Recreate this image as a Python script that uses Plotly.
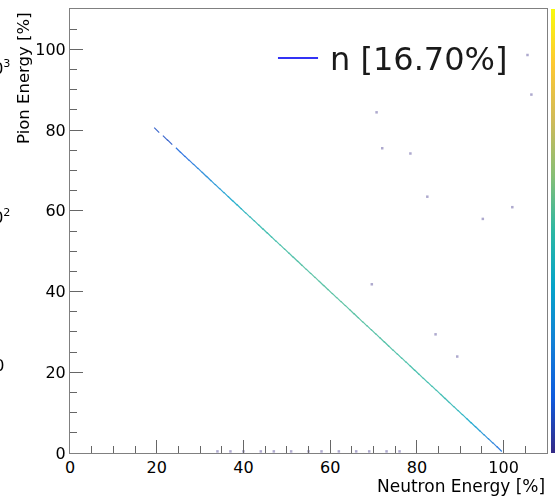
import numpy as np
import plotly.graph_objects as go

# ---- data ----
# diagonal band: neutron energy [%], pion energy [%], counts per 1% bin
neutron_energy = [20, 22, 23, 25, 26, 27, 28, 29,
                  30, 31, 32, 33, 34, 35, 36, 37, 38, 39,
                  40, 41, 42, 43, 44, 45, 46, 47, 48, 49,
                  50, 51, 52, 53, 54, 55, 56, 57, 58, 59,
                  60, 61, 62, 63, 64, 65, 66, 67, 68, 69,
                  70, 71, 72, 73, 74, 75, 76, 77, 78, 79,
                  80, 81, 82, 83, 84, 85, 86, 87, 88, 89,
                  90, 91, 92, 93, 94, 95, 96, 97, 98, 99]
pion_energy = [80, 78, 77, 75, 74, 73, 72, 71,
               70, 69, 68, 67, 66, 65, 64, 63, 62, 61,
               60, 59, 58, 57, 56, 55, 54, 53, 52, 51,
               50, 49, 48, 47, 46, 45, 44, 43, 42, 41,
               40, 39, 38, 37, 36, 35, 34, 33, 32, 31,
               30, 29, 28, 27, 26, 25, 24, 23, 22, 21,
               20, 19, 18, 17, 16, 15, 14, 13, 12, 11,
               10, 9, 8, 7, 6, 5, 4, 3, 2, 1]
counts = [2, 2, 2, 3, 3, 3, 4, 5,
          6, 7, 8, 9, 10, 12, 14, 17, 20, 24,
          28, 32, 36, 40, 43, 46, 48, 50, 52, 55,
          57, 55, 58, 60, 62, 60, 63, 65, 62, 64,
          66, 63, 65, 67, 64, 66, 62, 65, 63, 60,
          62, 59, 61, 58, 60, 57, 55, 57, 54, 52,
          50, 52, 49, 47, 48, 45, 43, 40, 38, 35,
          30, 25, 20, 16, 13, 10, 8, 6, 5, 4]

# isolated single entries
stray_neutron = [105.5, 106.4, 70.7, 72.0, 78.5, 82.4, 102.0, 95.2, 69.6, 84.3, 89.3,
                 34, 37, 40, 44, 47, 51, 55, 58, 62, 66, 69, 73, 76]
stray_pion = [98.6, 88.8, 84.4, 75.5, 74.2, 63.5, 60.9, 58.0, 41.8, 29.4, 23.9,
              0.4, 0.4, 0.4, 0.4, 0.4, 0.4, 0.4, 0.4, 0.4, 0.4, 0.4, 0.4, 0.4]
stray_counts = [1] * len(stray_neutron)

legend_label = "n [16.70%]"
x_title = "Neutron Energy [%]"
y_title = "Pion Energy [%]"

# ROOT kBird palette
_st = [0, .125, .25, .375, .5, .625, .75, .875, 1]
_r = [0.2082, 0.0592, 0.0780, 0.0232, 0.1802, 0.5301, 0.8186, 0.9956, 0.9764]
_g = [0.1664, 0.3599, 0.5041, 0.6419, 0.7178, 0.7492, 0.7328, 0.7862, 0.9832]
_b = [0.5293, 0.8684, 0.8385, 0.7914, 0.6425, 0.4662, 0.3499, 0.1968, 0.0539]
kbird = [[s, f"rgb({int(r*255)},{int(g*255)},{int(b*255)})"] for s, r, g, b in zip(_st, _r, _g, _b)]

ZMIN, ZMAX = 0.0, 3.4
FONT = "DejaVu Sans"

fig = go.Figure()

fig.add_trace(go.Scatter(
    x=stray_neutron, y=stray_pion, mode="markers", showlegend=False, hoverinfo="skip",
    opacity=0.4,
    marker=dict(symbol="square", size=2.5, color=np.log10(stray_counts),
                colorscale=kbird, cmin=ZMIN, cmax=ZMAX, line=dict(width=0)),
))

fig.add_trace(go.Scatter(
    x=neutron_energy, y=pion_energy, mode="markers", showlegend=False,
    opacity=0.85,
    marker=dict(symbol="line-nw-open", size=5, color=np.log10(counts),
                colorscale=kbird, cmin=ZMIN, cmax=ZMAX,
                line=dict(width=1.2),
                showscale=True,
                colorbar=dict(x=1.0084, xanchor="left", xpad=0, ypad=0,
                              y=0.5, yanchor="middle", len=1, lenmode="fraction",
                              thickness=12, outlinewidth=0, showticklabels=False,
                              ticks="")),
))

axis_common = dict(
    range=[0, 110], dtick=20, tick0=0, ticks="inside", ticklen=13, tickwidth=1,
    tickcolor="#666666", showline=True, linecolor="#808080", linewidth=1, mirror=True,
    showgrid=False, zeroline=False,
    tickfont=dict(family=FONT, size=16, color="#000000"),
    minor=dict(dtick=5, ticks="inside", ticklen=7, tickcolor="#666666", tickwidth=1, showgrid=False),
)

fig.update_layout(
    width=555, height=497,
    margin=dict(l=70, r=8, t=9, b=44, autoexpand=False),
    paper_bgcolor="white", plot_bgcolor="white",
    xaxis=axis_common,
    yaxis=axis_common,
    font=dict(family=FONT, color="#000000"),
    shapes=[dict(type="line", xref="paper", yref="paper",
                 x0=0.436, x1=0.520, y0=0.8896, y1=0.8896,
                 line=dict(color="#3333f5", width=2))],
    annotations=[
        dict(text=legend_label, xref="paper", yref="paper", x=0.541, y=0.887,
             xanchor="left", yanchor="middle", showarrow=False,
             font=dict(family=FONT, size=32, color="#1a1a1a")),
        dict(text=x_title, xref="paper", yref="paper", x=1.0, y=-0.074,
             xanchor="right", yanchor="middle", showarrow=False,
             font=dict(family=FONT, size=17, color="#000000")),
        dict(text=y_title, xref="paper", yref="paper", x=-0.0964, y=0.998,
             xanchor="center", yanchor="top", textangle=-90, showarrow=False,
             font=dict(family=FONT, size=16.5, color="#000000")),
        dict(text="10<sup>3</sup>", xref="paper", yref="paper", x=(12 - 70) / 477, y=(453 - 67) / 444,
             xanchor="right", yanchor="middle", showarrow=False,
             font=dict(family=FONT, size=16, color="#000000")),
        dict(text="10<sup>2</sup>", xref="paper", yref="paper", x=(12 - 70) / 477, y=(453 - 216) / 444,
             xanchor="right", yanchor="middle", showarrow=False,
             font=dict(family=FONT, size=16, color="#000000")),
        dict(text="10", xref="paper", yref="paper", x=(6 - 70) / 477, y=(453 - 365) / 444,
             xanchor="right", yanchor="middle", showarrow=False,
             font=dict(family=FONT, size=16, color="#000000")),
    ],
)

fig.write_html("out.html", config={"displayModeBar": False},
               post_script="document.body.style.margin='0';")
